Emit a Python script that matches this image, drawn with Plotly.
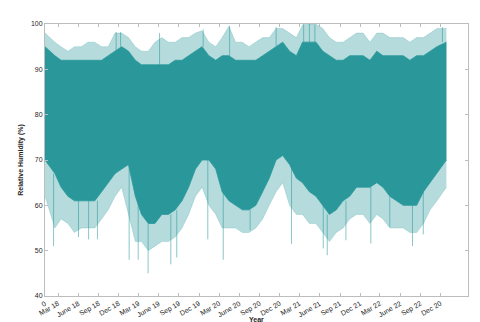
import pandas as pd
import plotly.graph_objects as go

# Monthly readings, Jan 2018 .. Dec 2022 (relative humidity, %)
top = [98, 96, 95, 94, 95, 95, 96, 96, 95, 95, 98, 98,
       97, 95, 94, 94, 96, 97, 96, 96, 97, 97, 98, 98.5,
       96, 95, 97, 99.5, 96, 96, 95, 96, 97, 97, 99, 99,
       98, 97, 99.8, 100, 100, 99, 97, 96, 96, 97, 98, 98,
       96, 98, 98, 97, 97, 97, 96, 97, 97, 98, 99, 99]
core_top = [95, 93, 92, 92, 92, 92, 92, 92, 92, 93, 94, 95,
            94, 92, 91, 91, 91, 91, 91, 92, 92, 93, 94, 95,
            93, 92, 93, 93, 92, 92, 92, 92, 93, 94, 95, 96,
            94, 93, 96, 96, 96, 94, 93, 92, 92, 93, 93, 93,
            92, 94, 93, 93, 93, 93, 92, 93, 93, 94, 95, 96]
core_bot = [70, 67, 64, 62, 61, 61, 61, 61, 63, 65, 67, 68,
            69, 62, 58, 56, 56, 58, 58, 59, 61, 64, 68, 70,
            70, 68, 63, 61, 60, 59, 59, 60, 63, 66, 70, 71,
            69, 66, 65, 63, 62, 60, 58, 59, 61, 62, 64, 64,
            64, 65, 64, 62, 61, 60, 60, 60, 63, 65, 67, 70]
low = [62, 55, 57, 56, 54, 55, 55, 55, 57, 59, 62, 64,
       58, 52, 52, 50, 51, 52, 52, 53, 55, 58, 62, 64,
       60, 58, 55, 55, 55, 54, 54, 55, 57, 60, 63, 65,
       60, 58, 58, 56, 56, 54, 52, 54, 55, 57, 58, 58,
       56, 58, 57, 55, 55, 55, 54, 54, 56, 59, 61, 64]

# Individual extreme readings (date, value)
spike_dates = ["2018-02-09", "2018-06-02", "2018-07-18", "2018-08-27", "2019-01-18",
               "2019-02-28", "2019-04-14", "2019-07-26", "2019-08-22", "2020-01-10",
               "2020-03-20", "2020-07-20", "2021-01-24", "2021-06-17", "2021-07-05",
               "2021-09-28", "2022-01-19", "2022-04-15", "2022-07-27", "2022-09-14",
               "2018-11-20", "2018-12-10", "2019-06-05", "2019-12-20", "2020-04-18",
               "2020-11-15", "2021-03-20", "2021-04-15", "2021-05-10", "2022-12-10"]
spike_values = [51, 53, 52.5, 52.5, 48, 48, 45, 47, 48.5, 52.5,
                48, 54.5, 51.5, 50.5, 49, 52.3, 51.6, 55.3, 51, 53.6,
                98.2, 98.2, 98, 98.8, 99.6, 99.3, 100, 100, 99.8, 99.3]

tick_dates = ["2018-01-01", "2018-03-01", "2018-06-01", "2018-09-01", "2018-12-01",
              "2019-03-01", "2019-06-01", "2019-09-01", "2019-12-01",
              "2020-03-01", "2020-06-01", "2020-09-01", "2020-12-01",
              "2021-03-01", "2021-06-01", "2021-09-01", "2021-12-01",
              "2022-03-01", "2022-06-01", "2022-09-01", "2022-12-01"]
tick_text = ["0", "Mar 18", "June 18", "Sep 18", "Dec 18", "Mar 19", "June 19", "Sep 19",
             "Dec 19", "Mar 20", "June 20", "Sep 20", "Dec 20", "Mar 21", "June 21",
             "Sep 21", "Dec 21", "Mar 22", "June 22", "Sep 22", "Dec 20"]

FIRST_DAY = "2018-01-01"
LAST_DAY = "2022-12-28"

months = list(pd.date_range("2018-01-01", periods=60, freq="MS") + pd.Timedelta(days=14))
months[0] = pd.Timestamp(FIRST_DAY)
months[-1] = pd.Timestamp(LAST_DAY)

TEAL = "#2a989b"
LIGHT = "rgba(42,152,155,0.35)"

fig = go.Figure()

fig.add_trace(go.Scatter(x=months, y=top, mode="lines", line=dict(width=0.6, color=LIGHT),
                         showlegend=False, hoverinfo="skip"))
fig.add_trace(go.Scatter(x=months, y=low, mode="lines", line=dict(width=0.6, color=LIGHT),
                         fill="tonexty", fillcolor=LIGHT, showlegend=False, hoverinfo="skip"))
fig.add_trace(go.Scatter(x=months, y=core_top, mode="lines", line=dict(width=0.8, color=TEAL),
                         showlegend=False, hoverinfo="skip"))
fig.add_trace(go.Scatter(x=months, y=core_bot, mode="lines", line=dict(width=0.8, color=TEAL),
                         fill="tonexty", fillcolor=TEAL, showlegend=False, hoverinfo="skip"))

sx, sy = [], []
for d, v in zip(spike_dates, spike_values):
    dt = pd.Timestamp(d)
    idx = (dt.year - 2018) * 12 + dt.month - 1
    base = core_bot[idx] if v < 80 else core_top[idx]
    sx += [dt, dt, None]
    sy += [base, v, None]
fig.add_trace(go.Scatter(x=sx, y=sy, mode="lines", line=dict(width=1, color="rgba(42,152,155,0.55)"),
                         showlegend=False, hoverinfo="skip"))

axis_common = dict(showline=True, linecolor="#bdbdbd", linewidth=1, mirror="allticks",
                   ticks="inside", ticklen=3, tickcolor="#bdbdbd", showgrid=False, zeroline=False,
                   tickfont=dict(family="Liberation Sans, Arial", size=7, color="#262626"))

fig.update_layout(
    width=480, height=322,
    margin=dict(l=33, r=20, t=15, b=33),
    paper_bgcolor="white", plot_bgcolor="white",
    xaxis=dict(range=["2018-01-01", "2023-04-05"], tickvals=tick_dates, ticktext=tick_text,
               tickangle=-30, **axis_common),
    yaxis=dict(range=[40, 100], tickvals=[40, 50, 60, 70, 80, 90, 100],
               title=dict(text="Relative Humidity (%)", standoff=6,
                          font=dict(family="Liberation Sans, Arial", size=7, color="#262626", weight="bold")),
               **axis_common),
    annotations=[dict(text="Year", xref="paper", yref="paper", x=0.5, y=-0.085,
                      xanchor="center", yanchor="middle", showarrow=False,
                      font=dict(family="Liberation Sans, Arial", size=7, color="#262626", weight="bold"))],
)

fig.write_html("out.html")
